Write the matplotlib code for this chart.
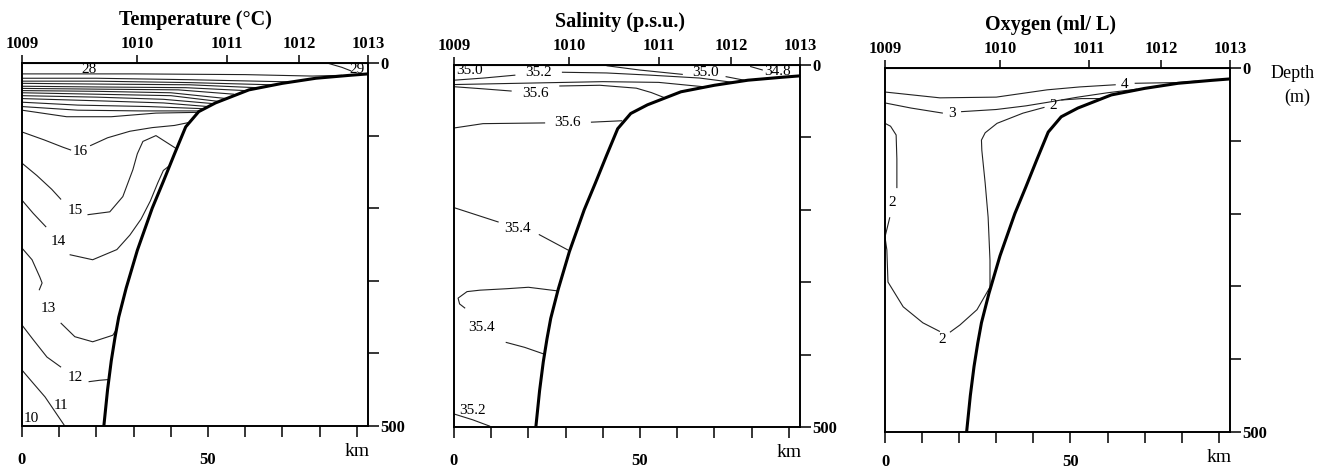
import matplotlib.pyplot as plt

plt.rcParams["font.family"] = ["Liberation Serif", "DejaVu Serif"]

# station names along the section and their distance (km)
stations = ["1009", "1010", "1011", "1012", "1013"]
station_km = [0, 31, 55, 74.5, 93]

# sea floor profile (km, depth m)
bottom_km = [22, 23, 24, 25, 26, 28, 31, 35, 38, 41, 44, 47.5, 52, 61, 70, 79, 88, 93]
bottom_depth = [500, 450, 410, 378, 350, 310, 258, 200, 163, 125, 88, 67, 55, 37, 28, 21, 17, 15]

# temperature isolines: (km, depth) pieces, gaps are where labels sit
temp_lines = [
    ([0, 30, 60, 78, 86], [15, 15, 16, 18, 17]),
    ([82, 86, 88.5], [0, 6, 11]),
    ([0, 20, 45, 72], [21, 21, 23, 26]),
    ([0, 20, 45, 67], [25, 25, 27, 30]),
    ([0, 20, 45, 63], [28, 29, 30, 34]),
    ([0, 20, 44, 60], [32, 33, 34, 38]),
    ([0, 20, 42, 57], [35, 36, 37, 43]),
    ([0, 20, 40, 55], [38, 39, 41, 49]),
    ([0, 20, 40, 53], [41, 43, 45, 53]),
    ([0, 20, 38, 51.5], [45, 47, 50, 56]),
    ([0, 20, 38, 50], [49, 52, 55, 60]),
    ([0, 15, 34, 49], [54, 58, 60, 63]),
    ([0, 15, 32, 48], [60, 65, 66, 66]),
    ([0, 12, 24, 36, 47], [65, 74, 74, 69, 68]),
    ([0, 6, 11, 13.2], [95, 106, 116, 120]),
    ([18.3, 23, 29, 35, 41, 44.8], [114, 103, 94, 89, 86, 82]),
    ([0, 4, 8, 10.5], [138, 155, 174, 188]),
    ([17.6, 23.6, 27.1, 29.8, 31, 32.5, 36, 41.5], [209, 205, 184, 147, 125, 108, 100, 118]),
    ([0, 3, 6.5], [189, 207, 226]),
    ([12.8, 19, 25.5, 29, 32, 34.5, 36.5, 38, 39.5], [264, 271, 257, 237, 215, 190, 165, 148, 142]),
    ([0, 2.7, 4.8, 5.4, 4.6], [255, 271, 295, 303, 313]),
    ([10.4, 14.2, 19, 24.4, 25.4], [358, 377, 384, 375, 367]),
    ([0, 3, 6.7, 10.5], [361, 381, 405, 419]),
    ([17.9, 20.9, 23.3], [439, 437, 436]),
    ([0, 3, 6.2, 10.7, 11.5], [423, 441, 460, 494, 500]),
]
temp_labels = [("28", 18, 9), ("29", 90, 9), ("16", 15.7, 122), ("15", 14.2, 203),
               ("14", 9.7, 246), ("13", 7.0, 338), ("12", 14.2, 433), ("11", 10.4, 472),
               ("10", 2.5, 489)]

sal_lines = [
    ([0, 8, 16.5], [21, 18, 14]),
    ([29, 41, 52.7, 66, 75], [10, 11, 14, 18, 24]),
    ([0, 20, 40, 55, 67], [27, 25, 23, 24, 30]),
    ([41, 50, 61.5], [1, 7, 13]),
    ([73, 78], [16, 21]),
    ([79.6, 83], [2, 7]),
    ([0, 8, 15.5], [30, 33, 36]),
    ([28.3, 39.2, 49, 53, 56.5], [29, 28, 32, 38, 45]),
    ([0, 7.8, 24.5], [87, 81, 80]),
    ([36.8, 45.2], [79, 77]),
    ([0, 6, 12], [197, 207, 217]),
    ([22.8, 30.8], [234, 256]),
    ([27.8, 20, 14.2, 7, 3.5, 1.1, 1.5, 3], [312, 307, 309, 311, 313, 322, 330, 336]),
    ([13.9, 19, 24.6], [383, 390, 400]),
    ([0, 5, 9.7], [482, 490, 499]),
]
sal_labels = [("35.0", 4.3, 7), ("35.2", 22.6, 11), ("35.0", 67.5, 10), ("34.8", 87, 9),
              ("35.6", 21.8, 39), ("35.6", 30.6, 80), ("35.4", 17.2, 226),
              ("35.4", 7.5, 362), ("35.2", 5, 477)]

oxy_lines = [
    ([0, 14.8, 30, 43.7, 52.5, 62.2], [33, 41, 40, 30, 26, 23]),
    ([67.3, 78.7, 84], [21, 20, 18]),
    ([0, 7, 15.6], [48, 55, 62]),
    ([20.5, 30, 38, 44, 52, 60, 68], [60, 57, 52, 47, 40, 34, 29]),
    ([0, 1.5, 3, 3.2, 3.2], [76, 80, 92, 125, 165]),
    ([1.3, 0, 0.5, 0.8, 4.9, 10.2, 14.8], [205, 232, 250, 294, 328, 350, 362]),
    ([17.5, 20.2, 24.8, 28.3, 28.3, 27.8, 27, 26.1, 26, 27, 30.2, 37.2, 43],
     [363, 353, 332, 301, 264, 205, 158, 113, 99, 89, 76, 62, 54]),
    ([47.5, 53, 58], [44, 42, 42]),
]
oxy_labels = [("4", 64.7, 23), ("3", 18, 62), ("2", 45.3, 52), ("2", 1.9, 185), ("2", 15.5, 373)]

panels = [
    ("Temperature (°C)", temp_lines, temp_labels, [22, 63, 368, 426], 0.5, 11),
    ("Salinity (p.s.u.)", sal_lines, sal_labels, [454, 65, 800, 427], 0.48, 11),
    ("Oxygen (ml/ L)", oxy_lines, oxy_labels, [885, 68, 1230, 432], 0.48, 8),
]

W, H = 1334, 470
fig = plt.figure(figsize=(W / 100, H / 100), dpi=100)

for title, lines, labels, box, tx, kpad in panels:
    x0, y0, x1, y1 = box
    ax = fig.add_axes([x0 / W, (H - y1) / H, (x1 - x0) / W, (y1 - y0) / H])
    ax.set_xlim(0, 93)
    ax.set_ylim(500, 0)
    for s in ax.spines.values():
        s.set_linewidth(1.4)

    for xs, ds in lines:
        ax.plot(xs, ds, color="#222222", lw=0.8, solid_capstyle="butt")
    for txt, xk, dk in labels:
        ax.text(xk, dk, txt, ha="center", va="center", fontsize=11)
    ax.plot(bottom_km, bottom_depth, color="black", lw=2.2, solid_capstyle="round")

    # bottom distance axis
    ax.set_xticks(range(0, 91, 10))
    ax.set_xticklabels(["0", "", "", "", "", "50", "", "", "", ""], fontweight="bold")
    ax.tick_params(axis="x", direction="out", length=8, width=1.1, labelsize=12, pad=kpad)

    # depth on the right
    ax.yaxis.tick_right()
    ax.set_yticks(range(0, 501, 100))
    ax.set_yticklabels(["0", "", "", "", "", "500"], fontweight="bold")
    ax.tick_params(axis="y", direction="out", length=8, width=1.1, labelsize=12, pad=1)

    # stations on top
    top = ax.secondary_xaxis("top")
    top.set_xticks(station_km)
    top.set_xticklabels(stations, fontweight="bold")
    top.tick_params(direction="out", length=6, width=1.1, labelsize=12, pad=2)

    ax.text(tx, 1.118, title, transform=ax.transAxes, ha="center", va="center",
            fontsize=14.5, fontweight="bold")
    ax.text(0.968, -0.07, "km", transform=ax.transAxes, ha="center", va="center", fontsize=14)

ax.text(1.116, 0.986, "Depth", transform=ax.transAxes, ha="left", va="center", fontsize=13)
ax.text(1.194, 0.92, "(m)", transform=ax.transAxes, ha="center", va="center", fontsize=13)

fig.savefig("out.png", dpi=100)
